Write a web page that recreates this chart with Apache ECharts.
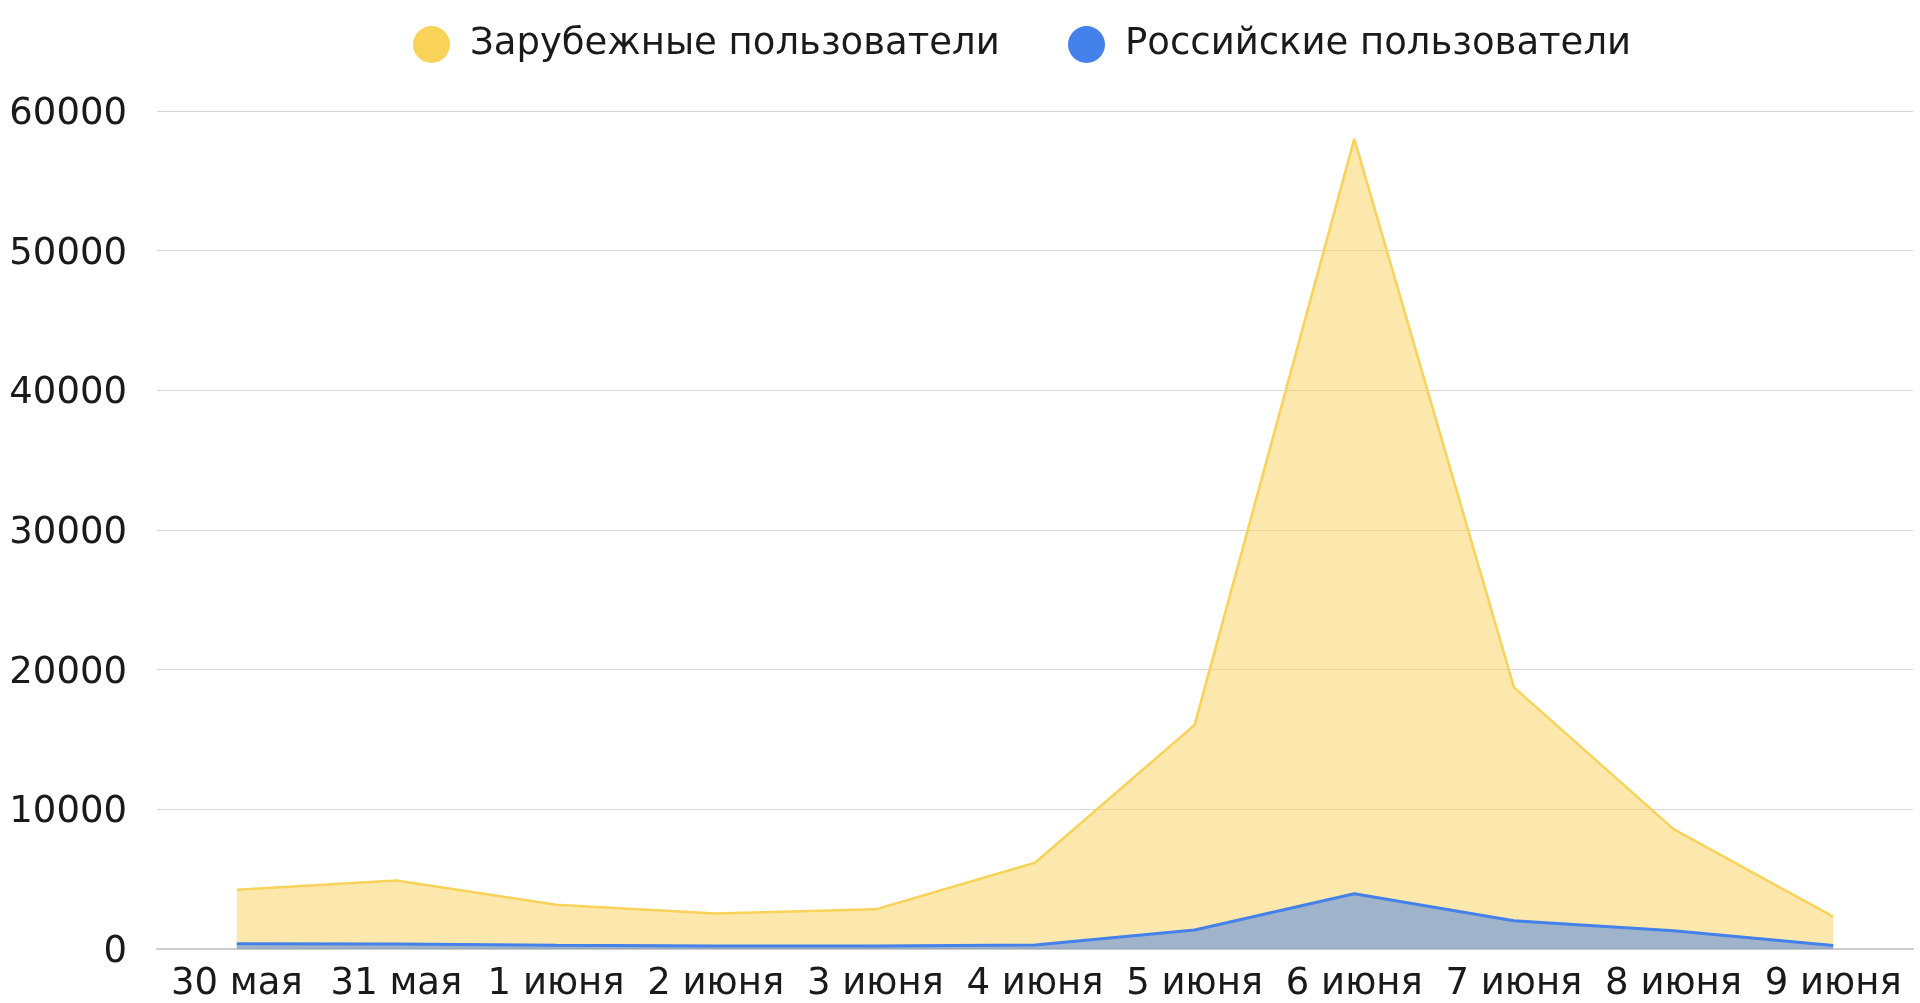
<!DOCTYPE html>
<html>
<head>
<meta charset="utf-8">
<script src="https://cdn.jsdelivr.net/npm/echarts@6/dist/echarts.min.js"></script>
<style>
html,body{margin:0;padding:0;background:#fff;}
#c{width:1920px;height:1003px;}
</style>
</head>
<body>
<div id="c"></div>
<script>
const categories = ['30 мая','31 мая','1 июня','2 июня','3 июня','4 июня','5 июня','6 июня','7 июня','8 июня','9 июня'];
const foreignUsers = [4250, 4900, 3170, 2550, 2840, 6180, 16050, 58000, 18730, 8580, 2320];
const russianUsers = [380, 360, 265, 215, 215, 286, 1355, 3960, 2030, 1315, 250];
const yTicks = {min: 0, max: 60000, interval: 10000};
const seriesNames = ['Зарубежные пользователи', 'Российские пользователи'];

const FONT = 'DejaVu Sans';
const chart = echarts.init(document.getElementById('c'));
const legendText = {fontFamily: FONT, fontSize: 37, color: '#1a1a1a', padding: [0,0,0,15]};
chart.setOption({
  animation: false,
  legend: [
    {data: [seriesNames[0]], left: 413, top: 26, padding: 0, icon: 'circle', itemWidth: 37, itemHeight: 37, textStyle: legendText},
    {data: [seriesNames[1]], left: 1068, top: 26, padding: 0, icon: 'circle', itemWidth: 37, itemHeight: 37, textStyle: legendText}
  ],
  grid: {left: 157, right: 7, top: 111, bottom: 53, containLabel: false},
  xAxis: {
    type: 'category',
    data: categories,
    boundaryGap: true,
    axisTick: {show: false},
    axisLine: {lineStyle: {color: '#cccccc', width: 2}},
    axisLabel: {fontFamily: FONT, fontSize: 37, color: '#1a1a1a', margin: 17, interval: 0}
  },
  yAxis: {
    type: 'value',
    min: yTicks.min, max: yTicks.max, interval: yTicks.interval,
    axisLine: {show: false},
    axisTick: {show: false},
    splitLine: {lineStyle: {color: '#d6d6d6', width: 1}},
    axisLabel: {fontFamily: FONT, fontSize: 37, color: '#1a1a1a', margin: 30, verticalAlign: 'top', lineHeight: 7, formatter: v => String(v)}
  },
  series: [
    {
      name: seriesNames[0], type: 'line', data: foreignUsers,
      showSymbol: false, symbol: 'none',
      itemStyle: {color: '#F9D25A'},
      lineStyle: {color: '#F9D25A', width: 2.5},
      areaStyle: {color: '#F9D25A', opacity: 0.5}
    },
    {
      name: seriesNames[1], type: 'line', data: russianUsers,
      showSymbol: false, symbol: 'none',
      itemStyle: {color: '#4481EA'},
      lineStyle: {color: '#4481EA', width: 3},
      areaStyle: {color: '#4481EA', opacity: 0.5}
    }
  ]
});
</script>
</body>
</html>
